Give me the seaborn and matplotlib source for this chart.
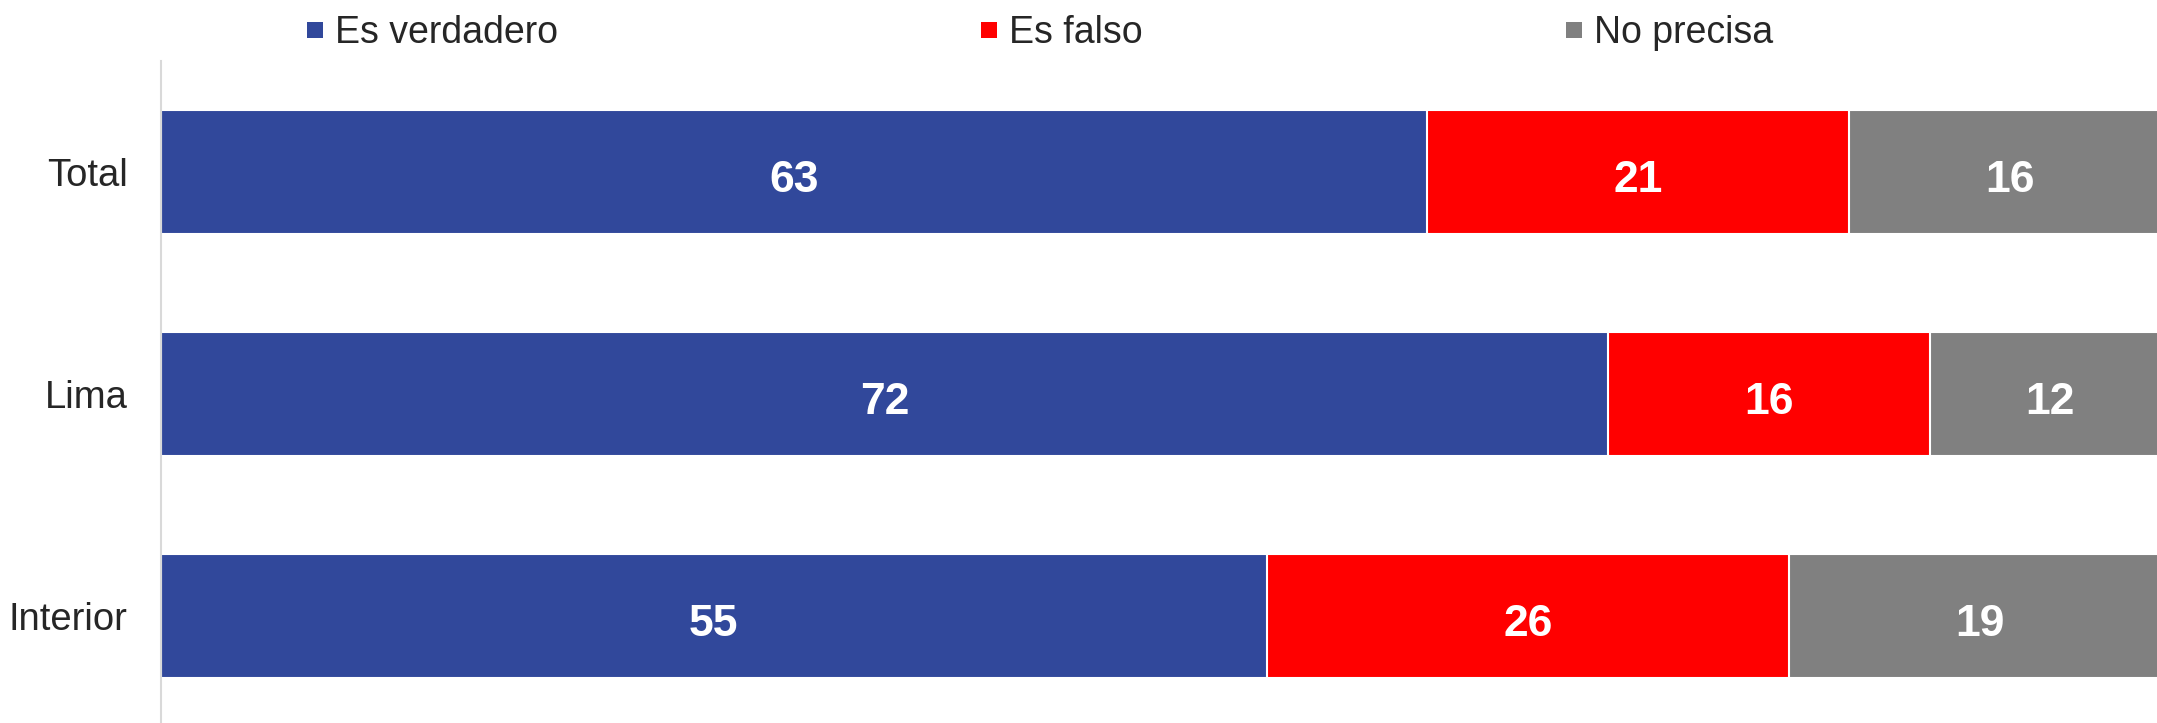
# %% Imports

import matplotlib.pyplot as plt
import pandas as pd
import seaborn as sns
from matplotlib.lines import Line2D

# %% Data

categories = ["Total", "Lima", "Interior"]
series = ["Es verdadero", "Es falso", "No precisa"]
verdadero = [63, 72, 55]
falso = [21, 16, 26]
no_precisa = [16, 12, 19]
colors = ["#31489b", "#ff0000", "#808080"]

df = pd.DataFrame(
    {
        "region": categories,
        "Es verdadero": verdadero,
        "Es falso": falso,
        "No precisa": no_precisa,
    }
)
# Running totals so the stacked segments can be drawn back to front
cum = df[series].cumsum(axis=1)
cum["region"] = df["region"]

# %% Plot

sns.set_style("white")
plt.rcParams["font.family"] = ["Liberation Sans", "DejaVu Sans"]
plt.rcParams["text.color"] = "#262626"

W, H = 2157, 723
fig = plt.figure(figsize=(W / 100, H / 100), dpi=100)
ax = fig.add_axes([161 / W, -4 / H, 2010 / W, 666 / H])

for name, color in reversed(list(zip(series, colors))):
    sns.barplot(
        data=cum,
        x=name,
        y="region",
        order=categories,
        orient="h",
        color=color,
        saturation=1,
        width=0.56,
        edgecolor="white",
        linewidth=1.5,
        ax=ax,
    )

# Segment labels
for i, row in df.iterrows():
    start = 0
    for name in series:
        v = row[name]
        ax.text(
            start + v / 2,
            i + 0.02,
            f"{v}",
            ha="center",
            va="center_baseline",
            color="white",
            fontsize=32,
            fontweight="bold",
        )
        start += v

ax.set_xlim(0, 100)
ax.set_ylim(2.5, -0.5)
ax.set_xlabel("")
ax.set_ylabel("")
ax.set_xticks([])

for side in ["top", "right", "bottom"]:
    ax.spines[side].set_visible(False)
ax.spines["left"].set_color("#d9d9d9")
ax.spines["left"].set_linewidth(1.5)

ax.tick_params(axis="y", which="major", length=0, pad=24, labelsize=27.5, labelcolor="#262626")
for lbl in ax.get_yticklabels():
    lbl.set_va("center_baseline")
ax.set_yticks([-0.5, 0.5, 1.5, 2.5], minor=True)
ax.tick_params(axis="y", which="minor", length=8, width=1.5, color="#d9d9d9")

handles = [
    Line2D([], [], marker="s", linestyle="", markersize=11.5, color=c, markeredgewidth=0)
    for c in colors
]
fig.legend(
    handles,
    series,
    loc="center left",
    bbox_to_anchor=(305.6 / W, 1 - 33 / H),
    ncol=3,
    frameon=False,
    fontsize=27,
    handlelength=0.5,
    handletextpad=0.28,
    columnspacing=11.25,
    borderpad=0,
    borderaxespad=0,
)

fig.savefig("out.png", dpi=100)
